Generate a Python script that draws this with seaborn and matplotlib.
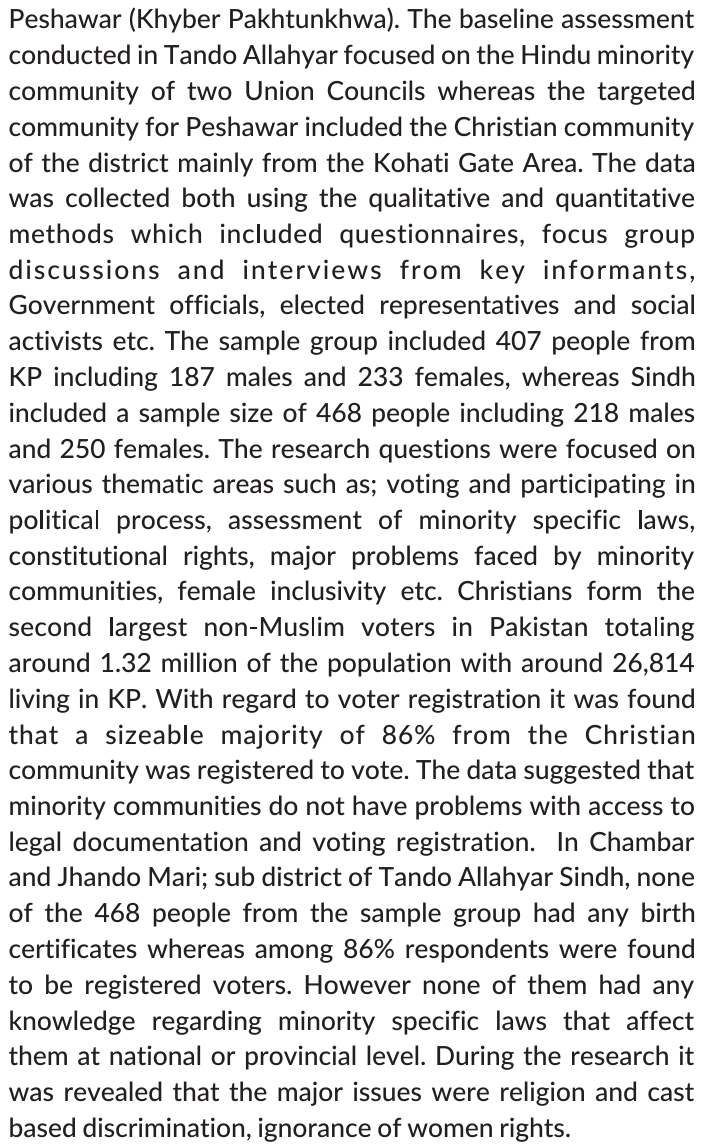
import matplotlib
matplotlib.use("Agg")
import matplotlib.pyplot as plt
import matplotlib.patheffects as pe
import seaborn as sns
from matplotlib import font_manager
from matplotlib.ft2font import FT2Font

try:
    from matplotlib.ft2font import Kerning
    KERN_MODE = Kerning.DEFAULT
except Exception:  # older matplotlib
    from matplotlib.ft2font import KERNING_DEFAULT as KERN_MODE

# ---------------- data: the text lines of the page ----------------
lines = [
    "Peshawar (Khyber Pakhtunkhwa). The baseline assessment",
    "conducted in Tando Allahyar focused on the Hindu minority",
    "community of two Union Councils whereas the targeted",
    "community for Peshawar included the Christian community",
    "of the district mainly from the Kohati Gate Area. The data",
    "was collected both using the qualitative and quantitative",
    "methods which included questionnaires, focus group",
    "discussions and interviews from key informants,",
    "Government officials, elected representatives and social",
    "activists etc. The sample group included 407 people from",
    "KP including 187 males and 233 females, whereas Sindh",
    "included a sample size of 468 people including 218 males",
    "and 250 females. The research questions were focused on",
    "various thematic areas such as; voting and participating in",
    "political process, assessment of minority specific laws,",
    "constitutional rights, major problems faced by minority",
    "communities, female inclusivity etc. Christians form the",
    "second largest non-Muslim voters in Pakistan totaling",
    "around 1.32 million of the population with around 26,814",
    "living in KP. With regard to voter registration it was found",
    "that a sizeable majority of 86% from the Christian",
    "community was registered to vote. The data suggested that",
    "minority communities do not have problems with access to",
    "legal documentation and voting registration.  In Chambar",
    "and Jhando Mari; sub district of Tando Allahyar Sindh, none",
    "of the 468 people from the sample group had any birth",
    "certificates whereas among 86% respondents were found",
    "to be registered voters. However none of them had any",
    "knowledge regarding minority specific laws that affect",
    "them at national or provincial level. During the research it",
    "was revealed that the major issues were religion and cast",
    "based discrimination, ignorance of women rights.",
]

# ---------------- style / layout ----------------
sns.set_theme(style="white")
FAMILY = "Lato"
WEIGHT = "medium"
plt.rcParams["font.family"] = [FAMILY, "DejaVu Sans"]

W, H, DPI = 704, 1144, 100
FONT_SIZE = 19.0
LEFT, RIGHT = 8.5, 694.0
FIRST_BASELINE, LEADING = 28.5, 35.75
COLOR = "#231f20"
MAX_SPACE_GROW = 1.4    # extra word space allowed, as a fraction of a space
MAX_SPACE_SHRINK = 0.45  # word space reduction allowed, as a fraction of a space
LAST_SPACE_SCALE = 0.85  # last (ragged) line uses slightly tight spaces

fig = plt.figure(figsize=(W / DPI, H / DPI), dpi=DPI)
fig.patch.set_facecolor("white")
ax = fig.add_axes([0, 0, 1, 1])
ax.set_xlim(0, W)
ax.set_ylim(H, 0)
ax.axis("off")

fp = font_manager.FontProperties(family=FAMILY, weight=WEIGHT, size=FONT_SIZE)
ft = FT2Font(font_manager.findfont(fp))
ft.set_size(FONT_SIZE, DPI)

_cache = {}


def glyph_info(c):
    if c not in _cache:
        g = ft.load_char(ord(c))
        _cache[c] = (
            g.linearHoriAdvance / 65536.0,
            g.horiBearingX / 64.0,
            g.width / 64.0,
            ft.get_char_index(ord(c)),
        )
    return _cache[c]


SPACE = glyph_info(" ")[0]
EFFECTS = [pe.Normal()]  # draw glyphs as outlines: sub-pixel placement


def char_positions(word, tracking):
    xs, pen, prev = [], 0.0, None
    for i, c in enumerate(word):
        adv, bx, wd, gi = glyph_info(c)
        if prev is not None:
            pen += ft.get_kerning(prev, gi, KERN_MODE) / 64.0
        xs.append(pen)
        pen += adv
        if i < len(word) - 1:
            pen += tracking
        prev = gi
    return xs, pen


def word_ink_width(word, tracking):
    xs, _ = char_positions(word, tracking)
    adv, bx, wd, gi = glyph_info(word[-1])
    return xs[-1] + bx + wd


def draw(x, y, s):
    ax.text(x, y, s, fontsize=FONT_SIZE, family=[FAMILY, "DejaVu Sans"],
            fontweight=WEIGHT, color=COLOR, ha="left", va="baseline",
            path_effects=EFFECTS)


def place_line(s, y, justify):
    words = s.split(" ")
    n_gaps_word = len(words) - 1
    n_chars = sum(max(len(w) - 1, 0) for w in words)

    def total(tr, sp):
        x = 0.0
        for i, w in enumerate(words):
            if w:
                _, adv = char_positions(w, tr)
                x += adv if i < len(words) - 1 else word_ink_width(w, tr)
            if i < len(words) - 1:
                x += sp + tr
        return x

    tracking, space = 0.0, SPACE
    if justify:
        target = RIGHT - LEFT
        extra = target - total(0.0, SPACE)
        n_units = n_chars + n_gaps_word
        if extra >= 0:
            grow = extra / n_gaps_word
            if grow <= MAX_SPACE_GROW * SPACE:
                space = SPACE + grow
            else:
                space = SPACE * (1 + MAX_SPACE_GROW)
                tracking = (target - total(0.0, space)) / n_units
        else:
            shrink = -extra / n_gaps_word
            if shrink <= MAX_SPACE_SHRINK * SPACE:
                space = SPACE - shrink
            else:
                space = SPACE * (1 - MAX_SPACE_SHRINK)
                tracking = (target - total(0.0, space)) / n_units
    else:
        space = SPACE * LAST_SPACE_SCALE

    pen = LEFT
    for i, w in enumerate(words):
        if w:
            xs, adv = char_positions(w, tracking)
            if abs(tracking) < 0.05:
                draw(pen, y, w)
            else:
                for c, cx in zip(w, xs):
                    draw(pen + cx, y, c)
            pen += adv
        pen += space + tracking


for k, s in enumerate(lines):
    baseline = float(round(FIRST_BASELINE + k * LEADING))
    place_line(s, baseline, justify=(k < len(lines) - 1))

fig.savefig("out.png", dpi=DPI, facecolor="white")
